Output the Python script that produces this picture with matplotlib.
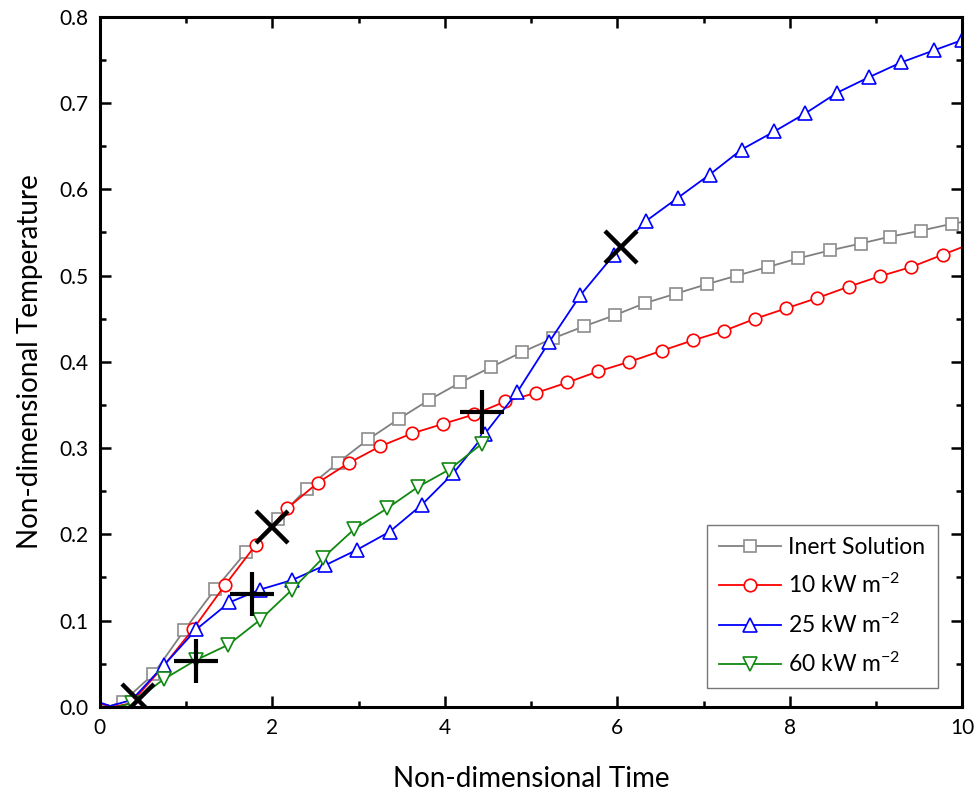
import matplotlib
matplotlib.use('Agg')
import matplotlib.pyplot as plt
from matplotlib.ticker import MultipleLocator, FormatStrFormatter

plt.rcParams['font.family'] = ['Lato', 'DejaVu Sans']
plt.rcParams['mathtext.default'] = 'regular'

# Inert solution (grey squares)
inert_t = [0.0, 0.12, 0.27, 0.62, 0.98, 1.34, 1.70, 2.06, 2.40, 2.76, 3.11, 3.47,
           3.82, 4.18, 4.54, 4.89, 5.25, 5.61, 5.97, 6.32, 6.68, 7.04, 7.39, 7.75,
           8.10, 8.46, 8.82, 9.16, 9.52, 9.88, 10.0]
inert_T = [0.003, 0.001, 0.006, 0.038, 0.089, 0.137, 0.180, 0.218, 0.253, 0.283,
           0.310, 0.334, 0.356, 0.376, 0.394, 0.411, 0.427, 0.441, 0.454, 0.468,
           0.479, 0.490, 0.500, 0.510, 0.520, 0.529, 0.537, 0.545, 0.552, 0.560, 0.562]

# 10 kW m-2 (red circles)
q10_t = [0.0, 0.15, 0.36, 0.72, 1.08, 1.45, 1.81, 2.17, 2.53, 2.89, 3.25, 3.62,
         3.98, 4.34, 4.70, 5.06, 5.42, 5.78, 6.14, 6.52, 6.88, 7.24, 7.60, 7.96,
         8.32, 8.68, 9.04, 9.41, 9.77, 10.0]
q10_T = [0.004, 0.0, 0.004, 0.045, 0.090, 0.141, 0.188, 0.230, 0.260, 0.283, 0.302,
         0.317, 0.328, 0.339, 0.354, 0.364, 0.376, 0.389, 0.400, 0.413, 0.425,
         0.436, 0.450, 0.462, 0.474, 0.487, 0.499, 0.510, 0.524, 0.533]

# 25 kW m-2 (blue up triangles)
q25_t = [0.0, 0.12, 0.37, 0.74, 1.12, 1.50, 1.86, 2.23, 2.61, 2.98, 3.36, 3.73,
         4.10, 4.46, 4.84, 5.21, 5.57, 5.96, 6.33, 6.70, 7.07, 7.44, 7.82, 8.18,
         8.55, 8.92, 9.29, 9.67, 10.0]
q25_T = [0.005, 0.001, 0.008, 0.048, 0.090, 0.121, 0.136, 0.147, 0.164, 0.182,
         0.203, 0.234, 0.271, 0.316, 0.365, 0.423, 0.477, 0.524, 0.563, 0.590,
         0.617, 0.646, 0.667, 0.688, 0.712, 0.730, 0.747, 0.761, 0.773]

# 60 kW m-2 (green down triangles)
q60_t = [0.0, 0.2, 0.37, 0.74, 1.11, 1.49, 1.86, 2.23, 2.59, 2.95, 3.33, 3.69,
         4.05, 4.43]
q60_T = [0.0, 0.0, 0.004, 0.032, 0.054, 0.072, 0.101, 0.136, 0.173, 0.206, 0.230,
         0.255, 0.275, 0.305]

# black event markers
x_marks_t = [0.44, 2.00, 6.04]
x_marks_T = [0.008, 0.209, 0.533]
plus_marks_t = [1.11, 1.76, 4.43]
plus_marks_T = [0.053, 0.131, 0.342]

fig = plt.figure(figsize=(9.79, 7.96), dpi=100)
ax = fig.add_axes([0.102, 0.112, 0.881, 0.867])

ax.plot(inert_t, inert_T, color='#808080', lw=1.3, marker='s', ms=8,
        mfc='white', mec='#8c8c8c', mew=1.2, markevery=slice(2, 30),
        label='Inert Solution')
ax.plot(q10_t, q10_T, color='#ff0000', lw=1.3, marker='o', ms=9,
        mfc='white', mec='#ff0000', mew=1.2, markevery=slice(4, 29),
        label='10 kW m$^{-2}$')
ax.plot(q25_t, q25_T, color='#0000ff', lw=1.3, marker='^', ms=9.5,
        mfc='white', mec='#0000ff', mew=1.2, markevery=slice(3, 29),
        label='25 kW m$^{-2}$')
ax.plot(q60_t, q60_T, color='#118811', lw=1.3, marker='v', ms=9.5,
        mfc='white', mec='#118811', mew=1.2, markevery=slice(2, 14),
        label='60 kW m$^{-2}$')

ax.plot(x_marks_t, x_marks_T, ls='none', marker='x', ms=23, mew=3.2, color='black')
ax.plot(plus_marks_t, plus_marks_T, ls='none', marker='+', ms=31, mew=3.0, color='black')

ax.set_xlim(0, 10)
ax.set_ylim(0, 0.8)
ax.xaxis.set_major_locator(MultipleLocator(2))
ax.xaxis.set_minor_locator(MultipleLocator(1))
ax.yaxis.set_major_locator(MultipleLocator(0.1))
ax.yaxis.set_minor_locator(MultipleLocator(0.05))
ax.yaxis.set_major_formatter(FormatStrFormatter('%.1f'))

for s in ax.spines.values():
    s.set_linewidth(2.2)
ax.tick_params(which='both', direction='in', top=True, right=True, width=1.8,
               labelsize=15)
ax.tick_params(which='major', length=8, pad=8)
ax.tick_params(which='minor', length=4)

ax.set_xlabel('Non-dimensional Time', fontsize=20, labelpad=20)
ax.set_ylabel('Non-dimensional Temperature', fontsize=20, labelpad=12)

leg = ax.legend(loc='lower right', bbox_to_anchor=(0.985, 0.01), fontsize=16.5,
                frameon=True, fancybox=False, edgecolor='#555555',
                handlelength=2.7, borderpad=0.55, labelspacing=0.65,
                handletextpad=0.3)
leg.get_frame().set_linewidth(1.0)

plt.savefig('out.png', dpi=100)
plt.close()
